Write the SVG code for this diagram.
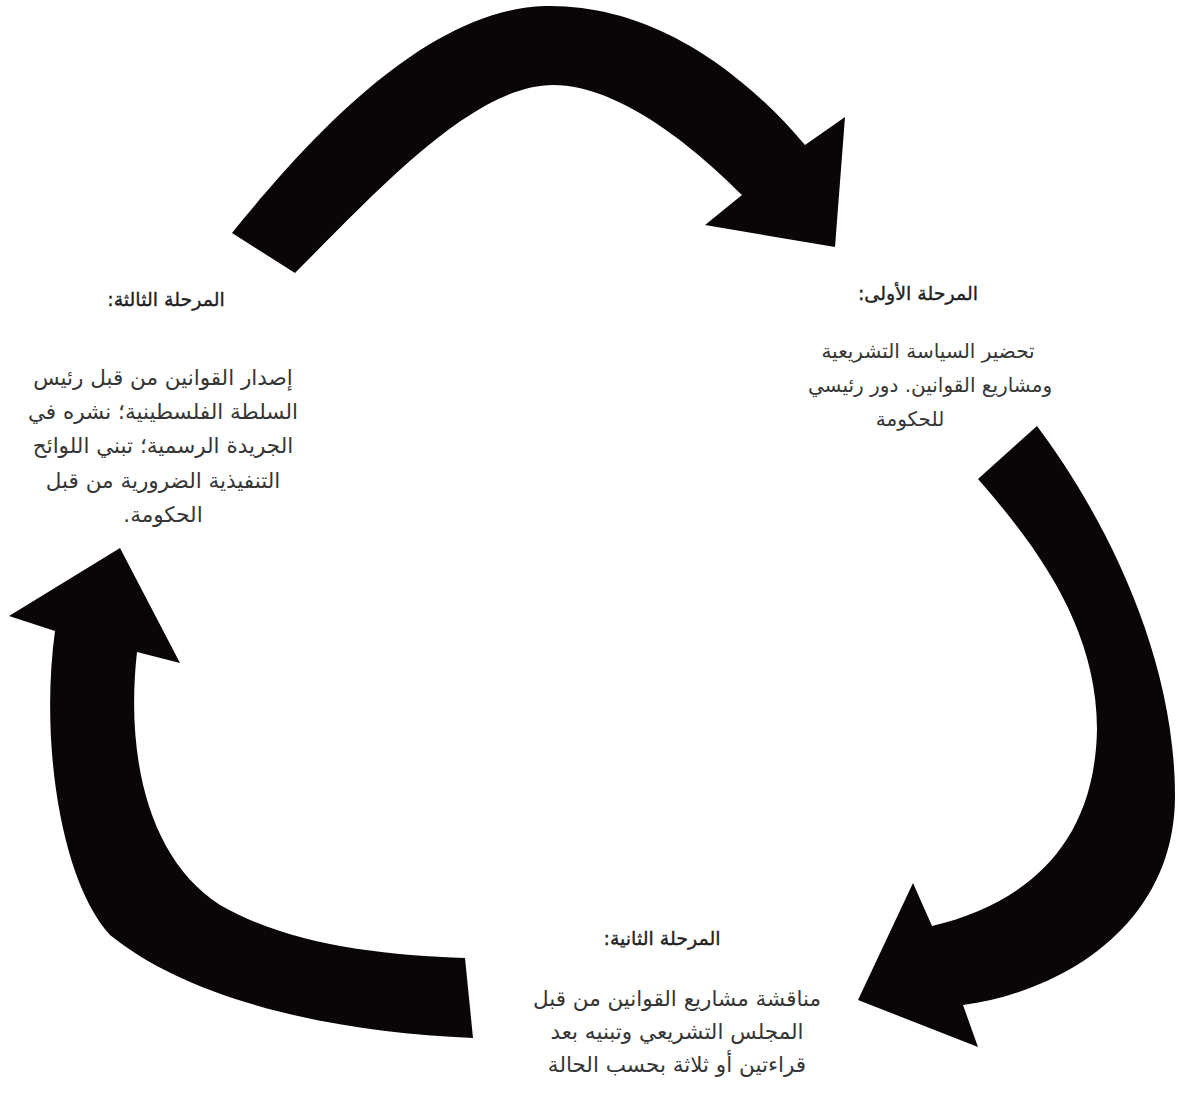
<svg xmlns="http://www.w3.org/2000/svg" width="1183" height="1095" viewBox="0 0 1183 1095">
<style>
.arrow{fill:#0a0507;stroke:none}
.h{font-family:"DejaVu Sans",sans-serif;font-size:19px;fill:#222;stroke:#222;stroke-width:0.35px;text-anchor:middle;direction:rtl}
.b{font-family:"DejaVu Sans",sans-serif;font-size:21.5px;fill:#363636;text-anchor:middle;direction:rtl}
.s{font-size:20px}
</style>
<rect width="1183" height="1095" fill="#fff"/>
<g id="connectors">
<path id="arrow-top" class="arrow" d="M232,233 C300,150 420,10 545,6 C660,4 750,80 805,145 L845,117 L835,247 L705,225 L742,195 C702,155 623,85 553,85 C473,85 375,193 295,273 Z"/>
<path id="arrow-right" class="arrow" d="M1037,426 C1100,510 1175,650 1175,796 C1175,920 1070,990 963,1005 L978,1047 L858,1000 L913,883 L932,926 C1020,905 1095,850 1097,729 C1097,630 1040,550 978,479 Z"/>
<path id="arrow-left" class="arrow" d="M120,548 L180,663 L137,652 C125,760 150,860 220,905 C290,945 380,955 465,958 L473,1038 C330,1032 190,1000 110,935 C60,880 40,740 55,631 L9,616 Z"/>
</g>
<g id="stage1">
<text class="h" x="918" y="300" direction="rtl">المرحلة الأولى:</text>
<text class="b s" x="928" y="358" direction="rtl">تحضير السياسة التشريعية</text>
<text class="b s" x="930" y="392" direction="rtl">ومشاريع القوانين. دور رئيسي</text>
<text class="b s" x="910" y="426" direction="rtl">للحكومة</text>
</g>
<g id="stage2">
<text class="h" x="662" y="945" direction="rtl">المرحلة الثانية:</text>
<text class="b" x="677" y="1006" direction="rtl">مناقشة مشاريع القوانين من قبل</text>
<text class="b" x="677" y="1039" direction="rtl">المجلس التشريعي وتبنيه بعد</text>
<text class="b" x="677" y="1072" direction="rtl">قراءتين أو ثلاثة بحسب الحالة</text>
</g>
<g id="stage3">
<text class="h" x="166" y="306" direction="rtl">المرحلة الثالثة:</text>
<text class="b" x="163" y="385" direction="rtl">إصدار القوانين من قبل رئيس</text>
<text class="b" x="163" y="419" direction="rtl">السلطة الفلسطينية؛ نشره في</text>
<text class="b" x="163" y="453" direction="rtl">الجريدة الرسمية؛ تبني اللوائح</text>
<text class="b" x="163" y="488" direction="rtl">التنفيذية الضرورية من قبل</text>
<text class="b" x="163" y="522" direction="rtl">الحكومة.</text>
</g>
</svg>
